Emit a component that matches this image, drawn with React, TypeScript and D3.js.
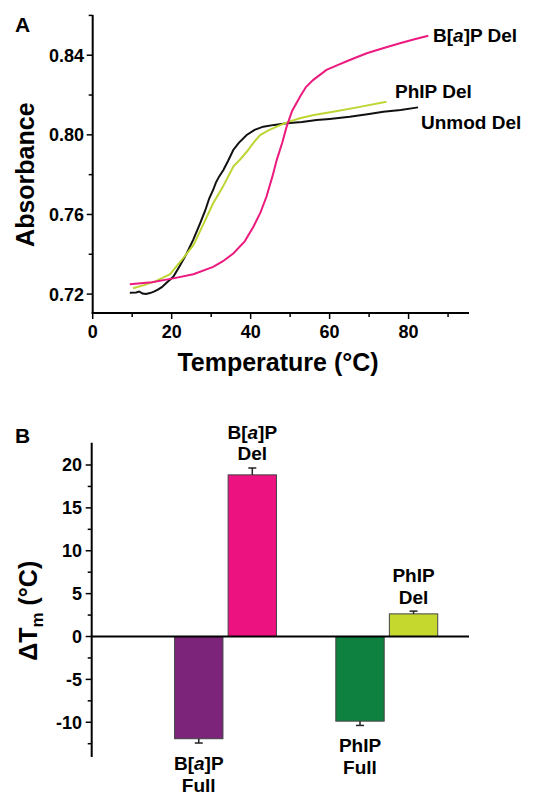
import React, { useRef, useEffect } from "react";
import * as d3 from "d3";

// melting curves: [temperature, absorbance]
const unmodDel: [number, number][] = [
  [9.4, 0.7207], [11, 0.7208], [11.8, 0.7213], [12.6, 0.7203], [13.5, 0.72], [14.5, 0.7205],
  [15.5, 0.7212], [16.5, 0.7222], [17.5, 0.7235], [18.7, 0.7257], [20.4, 0.7287], [22, 0.734],
  [23.8, 0.7404], [25.5, 0.7475], [27.2, 0.7555], [28.5, 0.762], [29.5, 0.768], [30.5, 0.7723],
  [31.2, 0.776], [32, 0.779], [33.1, 0.7823], [34.3, 0.787], [35.6, 0.7924], [37, 0.796],
  [39, 0.7999], [41, 0.8025], [43.2, 0.8041], [46, 0.805], [49.1, 0.8058], [53, 0.8064],
  [56.7, 0.8074], [60, 0.808], [65.1, 0.8091], [70, 0.8105], [73.6, 0.8116], [78, 0.8125],
  [82.4, 0.8138],
];
const phipDel: [number, number][] = [
  [10.2, 0.7229], [13, 0.7245], [16, 0.7265], [19.6, 0.73], [22.5, 0.737], [25.5, 0.7446],
  [28, 0.755], [30.5, 0.7656], [33, 0.774], [35.6, 0.784], [37.5, 0.788], [39, 0.7915],
  [40.7, 0.796], [42.4, 0.7999], [44.5, 0.8022], [46.6, 0.8041], [49.5, 0.8065], [52.5, 0.8083],
  [56, 0.81], [60.9, 0.8116], [67, 0.8138], [74.4, 0.8166],
];
const bapDel: [number, number][] = [
  [9.4, 0.725], [15, 0.726], [20.4, 0.7279], [25.5, 0.73], [30.5, 0.7337], [33, 0.7365],
  [35.6, 0.7404], [38.5, 0.7465], [40.7, 0.7538], [42.5, 0.761], [44, 0.7689], [45.5, 0.779],
  [46.6, 0.7873], [48, 0.796], [49.1, 0.804], [50.5, 0.812], [52.5, 0.8191], [54, 0.824],
  [55.8, 0.8275], [59.2, 0.8326], [62, 0.835], [65.1, 0.8376], [69.4, 0.841], [73.5, 0.8435],
  [77.8, 0.846], [81.5, 0.848], [85, 0.8498],
];

const xTicksA = [0, 20, 40, 60, 80];
const yTicksA = [0.72, 0.76, 0.8, 0.84];

// panel B bars
const barGroups = [1, 1, 2, 2];
const barOffsets = [-1, 1, -1, 1];
const barValues = [-11.92, 18.85, -9.87, 2.64];
const barErrors = [0.5, 0.8, 0.5, 0.32];
const barColors = ["#7B2479", "#EC1280", "#0E8040", "#C4D82E"];
const barLabels = [["B[a]P", "Full"], ["B[a]P", "Del"], ["PhIP", "Full"], ["PhIP", "Del"]];
const yTicksB = [-10, -5, 0, 5, 10, 15, 20];

const FONT = "'Liberation Sans', Arial, sans-serif";

const App = () => {
  const svgRef = useRef<SVGSVGElement>(null);

  useEffect(() => {
    const svg = d3.select(svgRef.current).html("");
    svg.attr("width", 535).attr("height", 796).style("font-family", FONT);

    // ---------- panel A ----------
    const xA = d3.scaleLinear().domain([0, 95.3]).range([92.7, 469]);
    const yA = d3.scaleLinear().domain([0.7105, 0.8602]).range([313, 15]);

    const gA = svg.append("g");

    // axes
    gA.append("line").attr("x1", xA(0)).attr("x2", xA(0)).attr("y1", yA.range()[1]).attr("y2", yA.range()[0] + 1)
      .attr("stroke", "#000").attr("stroke-width", 2);
    gA.append("line").attr("x1", xA(0) - 1).attr("x2", xA.range()[1]).attr("y1", yA.range()[0]).attr("y2", yA.range()[0])
      .attr("stroke", "#000").attr("stroke-width", 2);

    d3.range(0, 95, 10).forEach((t) => {
      const major = t % 20 === 0;
      gA.append("line").attr("x1", xA(t)).attr("x2", xA(t)).attr("y1", 313).attr("y2", 313 + (major ? 6 : 4))
        .attr("stroke", "#000").attr("stroke-width", 1.5);
    });
    xTicksA.forEach((t) => {
      gA.append("text").attr("x", xA(t)).attr("y", 338).attr("text-anchor", "middle")
        .attr("font-size", 18).attr("font-weight", "bold").text(t);
    });
    d3.range(0.72, 0.86, 0.02).forEach((v) => {
      const major = Math.round(v * 100) % 4 === 0;
      gA.append("line").attr("x1", xA(0) - (major ? 6 : 4)).attr("x2", xA(0)).attr("y1", yA(v)).attr("y2", yA(v))
        .attr("stroke", "#000").attr("stroke-width", 1.5);
    });
    yTicksA.forEach((v) => {
      gA.append("text").attr("x", 84).attr("y", yA(v) + 6.5).attr("text-anchor", "end")
        .attr("font-size", 18).attr("font-weight", "bold").text(v.toFixed(2));
    });

    gA.append("text").attr("x", 278).attr("y", 371).attr("text-anchor", "middle")
      .attr("font-size", 25).attr("font-weight", "bold").text("Temperature (°C)");
    gA.append("text").attr("transform", `translate(34,${yA(0.78)}) rotate(-90)`).attr("text-anchor", "middle")
      .attr("font-size", 25).attr("font-weight", "bold").text("Absorbance");
    gA.append("text").attr("x", 15).attr("y", 32).attr("font-size", 21).attr("font-weight", "bold").text("A");

    const line = d3.line<[number, number]>().x((d) => xA(d[0])).y((d) => yA(d[1]));
    const curves: [[number, number][], string][] = [
      [unmodDel, "#111"],
      [phipDel, "#BFD534"],
      [bapDel, "#EC1A7E"],
    ];
    curves.forEach(([data, color]) => {
      gA.append("path").datum(data).attr("d", line).attr("fill", "none")
        .attr("stroke", color).attr("stroke-width", 2);
    });

    const curveLabel = (x: number, y: number, parts: [string, boolean][]) => {
      const t = gA.append("text").attr("x", x).attr("y", y).attr("font-size", 19).attr("font-weight", "bold");
      parts.forEach(([s, it]) => t.append("tspan").attr("font-style", it ? "italic" : "normal").text(s));
    };
    curveLabel(433, 42, [["B[", false], ["a", true], ["]P Del", false]]);
    curveLabel(395, 98, [["PhIP Del", false]]);
    curveLabel(421, 129, [["Unmod Del", false]]);

    // ---------- panel B ----------
    const xB = d3.scaleLinear().domain([0.17, 2.51]).range([91.7, 469]);
    const yB = d3.scaleLinear().domain([-14.05, 22.6]).range([757, 442.7]);
    const gB = svg.append("g");
    const halfW = 0.15;
    const off = 0.166;

    gB.append("line").attr("x1", xB(0.17)).attr("x2", xB(0.17)).attr("y1", yB(22.6)).attr("y2", yB(-14.05))
      .attr("stroke", "#000").attr("stroke-width", 2);
    d3.range(-12.5, 22.5, 2.5).forEach((v) => {
      const major = v % 5 === 0;
      gB.append("line").attr("x1", 91.7 - (major ? 6 : 4)).attr("x2", 91.7).attr("y1", yB(v)).attr("y2", yB(v))
        .attr("stroke", "#000").attr("stroke-width", 1.5);
    });
    yTicksB.forEach((v) => {
      gB.append("text").attr("x", 82).attr("y", yB(v) + 6.5).attr("text-anchor", "end")
        .attr("font-size", 18).attr("font-weight", "bold").text(v);
    });

    barValues.forEach((v, i) => {
      const cx = xB(barGroups[i] + barOffsets[i] * off);
      const x0 = xB(barGroups[i] + barOffsets[i] * off - halfW);
      const x1 = xB(barGroups[i] + barOffsets[i] * off + halfW);
      gB.append("rect").attr("x", x0).attr("width", x1 - x0)
        .attr("y", Math.min(yB(v), yB(0))).attr("height", Math.abs(yB(v) - yB(0)))
        .attr("fill", barColors[i]).attr("stroke", "#444").attr("stroke-width", 1);
      const e = v + Math.sign(v) * barErrors[i];
      gB.append("line").attr("x1", cx).attr("x2", cx).attr("y1", yB(v)).attr("y2", yB(e))
        .attr("stroke", "#222").attr("stroke-width", 1.5);
      gB.append("line").attr("x1", cx - 4).attr("x2", cx + 4).attr("y1", yB(e)).attr("y2", yB(e))
        .attr("stroke", "#222").attr("stroke-width", 1.5);

      const [l1, l2] = barLabels[i];
      const base = v > 0 ? yB(e) - 29 : yB(e) + 27;
      const lab = gB.append("text").attr("text-anchor", "middle").attr("font-size", 19).attr("font-weight", "bold");
      const t1 = lab.append("tspan").attr("x", cx).attr("y", base);
      if (l1.includes("[a]")) {
        t1.append("tspan").text("B[");
        t1.append("tspan").attr("font-style", "italic").text("a");
        t1.append("tspan").text("]P");
      } else {
        t1.text(l1);
      }
      lab.append("tspan").attr("x", cx).attr("y", base + 21.5).text(l2);
    });

    gB.append("line").attr("x1", 91.7).attr("x2", 469).attr("y1", yB(0)).attr("y2", yB(0))
      .attr("stroke", "#000").attr("stroke-width", 2);

    const yt = gB.append("text").attr("transform", `translate(37,${yB(3)}) rotate(-90)`).attr("text-anchor", "middle")
      .attr("font-size", 25).attr("font-weight", "bold");
    yt.append("tspan").text("ΔT");
    yt.append("tspan").attr("font-size", 17).attr("dy", 6).text("m");
    yt.append("tspan").attr("dy", -6).text(" (°C)");
    gB.append("text").attr("x", 15).attr("y", 443).attr("font-size", 21).attr("font-weight", "bold").text("B");
  }, []);

  return <svg ref={svgRef} style={{ position: "absolute", left: 0, top: 0 }} />;
};

export default App;
